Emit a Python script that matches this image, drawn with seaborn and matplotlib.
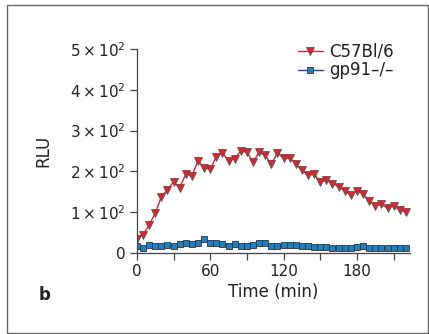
import numpy as np
import pandas as pd
import matplotlib
matplotlib.use("Agg")
import matplotlib.pyplot as plt
import seaborn as sns
from matplotlib.ticker import FuncFormatter, MultipleLocator
from matplotlib.patches import Rectangle

time_min = list(range(0, 225, 5))
c57bl6 = [35, 45, 68, 97, 137, 155, 174, 160, 193, 188, 226, 209, 205, 236, 245,
          226, 231, 250, 247, 223, 247, 239, 218, 245, 232, 232, 218, 203, 190, 193,
          174, 178, 170, 162, 152, 142, 152, 144, 128, 115, 119, 110, 115, 106, 100]
gp91 = [18, 11, 20, 17, 18, 20, 17, 22, 23, 21, 23, 33, 23, 23, 22,
        18, 22, 18, 17, 19, 24, 23, 16, 17, 20, 20, 20, 16, 18, 15,
        15, 15, 13, 11, 11, 13, 14, 16, 11, 11, 11, 13, 11, 11, 11]
series_names = ["C57Bl/6", "gp91\u2013/\u2013"]
yticks = [0, 100, 200, 300, 400, 500]
xticks = [0, 60, 120, 180]

sns.set_style("ticks")
plt.rcParams['font.family'] = ['DejaVu Sans']
plt.rcParams['mathtext.fontset'] = 'dejavusans'

fig = plt.figure(figsize=(4.29, 3.34), dpi=100)
ax = fig.add_axes([0.319, 0.243, 0.637, 0.61])

df = pd.DataFrame({"t": time_min, "a": c57bl6, "b": gp91})
sns.lineplot(data=df, x="t", y="a", ax=ax, color="#e8202a", lw=1.0,
             marker="v", markersize=5.6, markerfacecolor="#e5202b",
             markeredgecolor="#555555", markeredgewidth=0.6, label=series_names[0])
sns.lineplot(data=df, x="t", y="b", ax=ax, color="#26408f", lw=1.0,
             marker="s", markersize=3.7, markerfacecolor="#1b80c4",
             markeredgecolor="#333333", markeredgewidth=0.6, label=series_names[1])

ax.set_xlim(0, 223.5)
ax.set_ylim(0, 500)
ax.set_yticks(yticks)

def fmt(v, pos):
    if v == 0:
        return "0"
    return r"$%d\times10^{2}$" % int(round(v / 100))
ax.yaxis.set_major_formatter(FuncFormatter(fmt))
ax.set_xticks(xticks)
ax.xaxis.set_minor_locator(MultipleLocator(30))

for s in ["top", "right"]:
    ax.spines[s].set_visible(False)
for s in ["left", "bottom"]:
    ax.spines[s].set_color("#444444")
    ax.spines[s].set_linewidth(0.9)
ax.tick_params(axis="both", which="both", direction="out", length=5, width=0.9,
               color="#444444", labelsize=11, labelcolor="#222222", pad=3)
ax.tick_params(axis="x", which="minor", length=5)

ax.set_xlabel("Time (min)", fontsize=12, color="#222222", labelpad=3)
ax.set_ylabel("RLU", fontsize=12, color="#222222")
ax.yaxis.set_label_coords(-0.31, 0.5)

leg = ax.legend(loc="upper left", bbox_to_anchor=(0.565, 1.065), frameon=False,
                fontsize=12, handlelength=1.5, handletextpad=0.4,
                labelspacing=0.05, borderaxespad=0.0)
for t in leg.get_texts():
    t.set_color("#222222")

fig.text(45 / 429, 1 - 295 / 334, "b", fontsize=12, fontweight="bold",
         ha="center", va="center", color="#222222")

fig.patches.append(Rectangle((7 / 429, 0.003), 421 / 429, 1 - 5 / 334 - 0.003,
                             transform=fig.transFigure, fill=False,
                             edgecolor="#666666", linewidth=1.0))

fig.savefig("out.png", dpi=100)
